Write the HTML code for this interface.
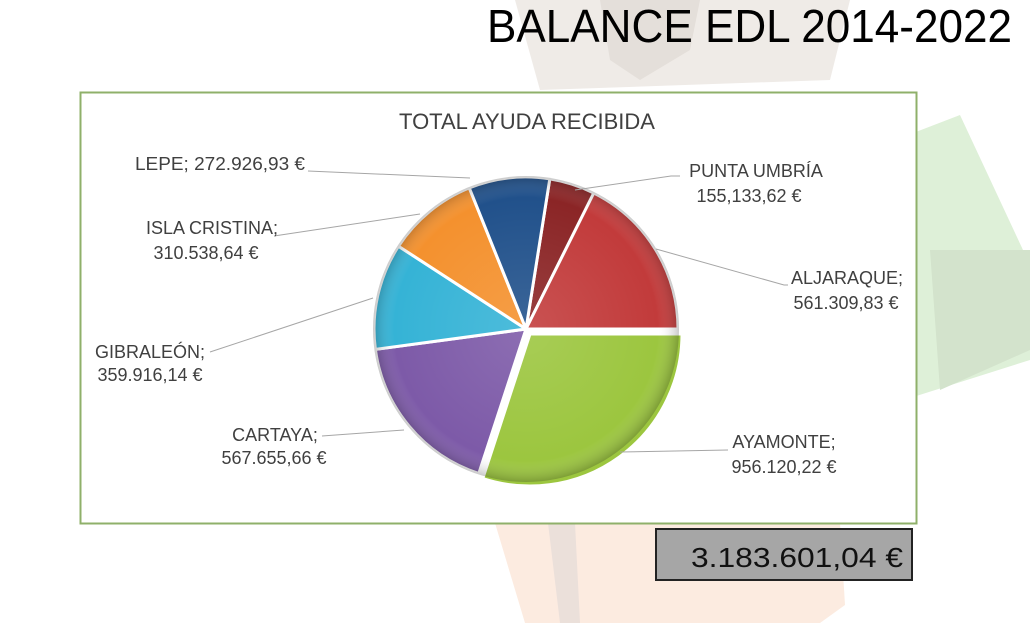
<!DOCTYPE html>
<html><head><meta charset="utf-8"><style>
html,body{margin:0;padding:0;background:#fff;}
svg{display:block;}
text{font-family:"Liberation Sans",sans-serif;}
</style></head><body>
<svg width="1030" height="623" viewBox="0 0 1030 623" xmlns="http://www.w3.org/2000/svg">
<defs>
<radialGradient id="sh" cx="526" cy="329" r="155" gradientUnits="userSpaceOnUse">
<stop offset="0" stop-color="#fff" stop-opacity="0.12"/>
<stop offset="0.85" stop-color="#fff" stop-opacity="0"/>
<stop offset="1" stop-color="#000" stop-opacity="0.25"/>
</radialGradient>
</defs>
<!-- faded background photos -->
<polygon points="515,0 850,0 830,80 540,90" fill="#efebe7"/>
<polygon points="600,0 700,0 690,50 640,80 610,60" fill="#e4dfda"/>
<polygon points="908,135 960,115 1030,265 1030,360 910,398" fill="#def0d8"/>
<polygon points="930,250 1030,250 1030,350 940,390" fill="#d3e3cc"/>
<polygon points="495,523 840,523 845,605 820,623 525,623" fill="#fcebe0"/>
<polygon points="548,523 575,523 580,623 560,623" fill="#ebe0da"/>
<!-- chart box -->
<rect x="80.5" y="92.5" width="836" height="431" fill="#fff" stroke="#8fb06a" stroke-width="2"/>
<text x="527" y="129" text-anchor="middle" font-size="22" fill="#404040">TOTAL AYUDA RECIBIDA</text>
<!-- pie -->
<g stroke="#fff" stroke-width="3" stroke-linejoin="round">
<path d="M526,329 L549.8,178.9 A152,152 0 0 1 593.8,193.0 Z" fill="#8b2526"/>
<path d="M526,329 L593.8,193.0 A152,152 0 0 1 678,329 Z" fill="#c23b3b"/>
<path transform="translate(4,5)" d="M526,329 L678,329 A152,152 0 0 1 478.8,473.5 Z" fill="#9cc63f"/>
<path d="M526,329 L478.8,473.5 A152,152 0 0 1 375.4,349.4 Z" fill="#7d5aa8"/>
<path d="M526,329 L375.4,349.4 A152,152 0 0 1 398.5,246.2 Z" fill="#35b3d6"/>
<path d="M526,329 L398.5,246.2 A152,152 0 0 1 469.3,187.9 Z" fill="#f4912e"/>
<path d="M526,329 L469.3,187.9 A152,152 0 0 1 549.8,178.9 Z" fill="#21518b"/>
</g>
<circle cx="526" cy="329" r="153" fill="url(#sh)"/>
<!-- leader lines -->
<g stroke="#a6a6a6" stroke-width="1" fill="none">
<polyline points="308,171 470,178"/>
<polyline points="575,190 671,176 680,176"/>
<polyline points="656,249 784,285 788,285"/>
<polyline points="620,452 728,450"/>
<polyline points="322,436 404,430"/>
<polyline points="210,352 373,298"/>
<polyline points="274,236 420,214"/>
</g>
<g font-size="18" fill="#404040" text-anchor="middle">
<text x="220" y="170" textLength="170" lengthAdjust="spacingAndGlyphs">LEPE; 272.926,93 €</text>
<text x="756" y="177">PUNTA UMBRÍA</text>
<text x="749" y="202">155,133,62 €</text>
<text x="847" y="284">ALJARAQUE;</text>
<text x="846" y="309">561.309,83 €</text>
<text x="784" y="448">AYAMONTE;</text>
<text x="784" y="473">956.120,22 €</text>
<text x="275" y="441">CARTAYA;</text>
<text x="274" y="464">567.655,66 €</text>
<text x="150" y="358">GIBRALEÓN;</text>
<text x="150" y="381">359.916,14 €</text>
<text x="212" y="234">ISLA CRISTINA;</text>
<text x="206" y="259">310.538,64 €</text>
</g>
<!-- total box -->
<rect x="656" y="529" width="256" height="51" fill="#a6a6a6" stroke="#222" stroke-width="2"/>
<text x="903" y="567" text-anchor="end" font-size="28" fill="#111" textLength="212" lengthAdjust="spacingAndGlyphs">3.183.601,04 €</text>
<!-- main title -->
<text x="1012" y="42" text-anchor="end" font-size="46" fill="#000" textLength="525" lengthAdjust="spacingAndGlyphs">BALANCE EDL 2014-2022</text>
</svg>
</body></html>
